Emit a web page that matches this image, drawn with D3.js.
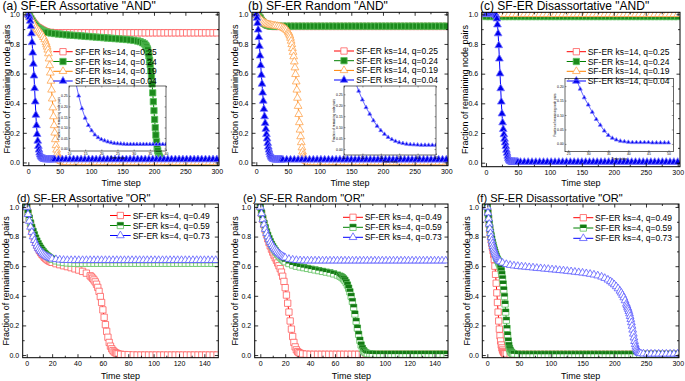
<!DOCTYPE html>
<html>
<head>
<meta charset="utf-8">
<script src="https://cdn.jsdelivr.net/npm/d3@7"></script>
<style>
  body { margin: 0; background: #fff; }
  svg { display: block; font-family: "Liberation Sans", Arial, sans-serif; }
</style>
</head>
<body>
<svg id="chart" width="685" height="381"></svg>
<script>
// ---------- data: [time step, fraction] ----------
const legendTop = ['SF-ER ks=14, q=0.25', 'SF-ER ks=14, q=0.24', 'SF-ER ks=14, q=0.19', 'SF-ER ks=14, q=0.04'];
const legendBottom = ['SF-ER ks=4, q=0.49', 'SF-ER ks=4, q=0.59', 'SF-ER ks=4, q=0.73'];
const panelTitles = ['(a) SF-ER Assortative "AND"', '(b) SF-ER Random "AND"', '(c) SF-ER Disassortative "AND"',
  '(d) SF-ER Assortative "OR"', '(e) SF-ER Random "OR"', '(f) SF-ER Disassortative "OR"'];

const xTicks300 = [0, 50, 100, 150, 200, 250, 300];
const xMinor300 = [25, 75, 125, 175, 225, 275];
const xTicks150 = [0, 20, 40, 60, 80, 100, 120, 140];
const xMinor150 = [10, 30, 50, 70, 90, 110, 130];
const yTicks = [0, 0.2, 0.4, 0.6, 0.8, 1.0];
const yMinor = [0.1, 0.3, 0.5, 0.7, 0.9];

const insetXTicksA = [10, 15, 20, 25, 30, 35, 40];
const insetXTicksB = [10, 15, 20, 25, 30, 35];
const insetXTicksC = [25, 30, 35, 40, 45, 50];
const insetYTicksAB = [0, 0.05, 0.1, 0.15, 0.2, 0.25];
const insetYTicksC = [0, 0.05, 0.1, 0.15, 0.2];

const aRed = [[0,1],[2,.985],[4,.97],[6,.955],[8,.945],[10,.935],[12,.925],[14,.915],[16,.91],[18,.905],[20,.9],[22,.895],[24,.89],[26,.886],[28,.883],[30,.88],
  [36,.878],[42,.876],[48,.875],[54,.875],[60,.875],[66,.875],[72,.875],[78,.875],[84,.875],[90,.875],[96,.875],[102,.875],[108,.875],[114,.875],[120,.875],[126,.875],[132,.875],[138,.875],[144,.875],[150,.875],[156,.875],[162,.875],[168,.875],[174,.875],[180,.875],[186,.875],[192,.875],[198,.875],[204,.875],[210,.875],[216,.875],[222,.875],[228,.875],[234,.875],[240,.875],[246,.875],[252,.875],[258,.875],[264,.875],[270,.875],[276,.875],[282,.875],[288,.875],[294,.875],[300,.875]];
const aGreen = [[0,1],[2,.985],[4,.97],[6,.955],[8,.94],[10,.93],[12,.92],[14,.91],[16,.905],[18,.9],[20,.895],[22,.89],[24,.886],[26,.883],[28,.88],[30,.878],
  [36,.874],[42,.87],[48,.867],[54,.864],[60,.862],[66,.86],[72,.858],[78,.856],[84,.854],[90,.852],[96,.85],[102,.848],[108,.846],[114,.844],[120,.842],[126,.84],[132,.838],[138,.836],[144,.834],[150,.832],[156,.83],[162,.827],[168,.824],[174,.82],[178,.815],[182,.808],[185,.8],
  [187,.79],[188,.78],[189,.77],[190,.76],[191,.74],[192,.72],[193,.69],[194,.66],[195,.62],[196,.58],[197,.53],[198,.47],[199,.41],[200,.35],[201,.29],[202,.235],[203,.185],[204,.14],[205,.105],[206,.08],[207,.06],[208,.045],[209,.035],[210,.028],[211,.022],[212,.017],[213,.012],[214,.008],[216,.005],
  [222,.003],[228,.002],[234,0],[240,0],[246,0],[252,0],[258,0],[264,0],[270,0],[276,0],[282,0],[288,0],[294,0],[300,0]];
const aOrange = [[0,1],[2,.985],[4,.97],[6,.955],[8,.94],[10,.925],[12,.91],[14,.9],[16,.89],[18,.88],[20,.87],[22,.86],[24,.845],[26,.83],[28,.81],[29,.795],[30,.78],[31,.76],[32,.735],[33,.7],[34,.655],[35,.605],[36,.55],[37,.49],[38,.43],[39,.37],[40,.31],[41,.25],[42,.2],[43,.155],[44,.115],[45,.085],[46,.06],[47,.042],[48,.03],[49,.02],[50,.014],[52,.008],[54,.005],[57,.003],[60,.001],
  [66,0],[72,0],[78,0],[84,0],[90,0],[96,0],[102,0],[108,0],[114,0],[120,0],[126,0],[132,0],[138,0],[144,0],[150,0],[156,0],[162,0],[168,0],[174,0],[180,0],[186,0],[192,0],[198,0],[204,0],[210,0],[216,0],[222,0],[228,0],[234,0],[240,0],[246,0],[252,0],[258,0],[264,0],[270,0],[276,0],[282,0],[288,0],[294,0],[300,0]];
const aBlue = [[0,1],[1,.995],[2,.98],[3,.955],[4,.92],[5,.87],[6,.81],[7,.74],[8,.665],[9,.585],[10,.5],[11,.41],[12,.32],[13,.25],[14,.19],[15,.145],[16,.11],[17,.085],[18,.065],[19,.052],[20,.043],[21,.037],[22,.032],[23,.028],[24,.025],[25,.023],[26,.022],[27,.021],[28,.02],[29,.02],[30,.02],[31,.02],[32,.02],[33,.02],[34,.02],[35,.02],[36,.02],[37,.02],[38,.02],[39,.02],[40,.02],
  [42,.02],[48,.02],[54,.02],[60,.02],[66,.02],[72,.02],[78,.02],[84,.02],[90,.02],[96,.02],[102,.02],[108,.02],[114,.02],[120,.02],[126,.02],[132,.02],[138,.02],[144,.02],[150,.02],[156,.02],[162,.02],[168,.02],[174,.02],[180,.02],[186,.02],[192,.02],[198,.02],[204,.02],[210,.02],[216,.02],[222,.02],[228,.02],[234,.02],[240,.02],[246,.02],[252,.02],[258,.02],[264,.02],[270,.02],[276,.02],[282,.02],[288,.02],[294,.02],[300,.02]];

const bRed = [[0,1],[2,.995],[4,.985],[6,.975],[8,.96],[10,.95],[12,.94],[14,.935],[16,.93],[18,.926],[20,.923],[22,.921],[24,.92],[26,.919],[28,.918],[30,.918],
  [36,.918],[42,.918],[48,.918],[54,.918],[60,.918],[66,.918],[72,.918],[78,.918],[84,.918],[90,.918],[96,.918],[102,.918],[108,.918],[114,.918],[120,.918],[126,.918],[132,.918],[138,.918],[144,.918],[150,.918],[156,.918],[162,.918],[168,.918],[174,.918],[180,.918],[186,.918],[192,.918],[198,.918],[204,.918],[210,.918],[216,.918],[222,.918],[228,.918],[234,.918],[240,.918],[246,.918],[252,.918],[258,.918],[264,.918],[270,.918],[276,.918],[282,.918],[288,.918],[294,.918],[300,.918]];
const bGreen = [[0,1],[2,.995],[4,.985],[6,.975],[8,.96],[10,.95],[12,.94],[14,.935],[16,.93],[18,.926],[20,.924],[22,.922],[24,.921],[26,.92],[28,.92],[30,.92],
  [36,.92],[42,.92],[48,.92],[54,.92],[60,.92],[66,.92],[72,.92],[78,.92],[84,.92],[90,.92],[96,.92],[102,.92],[108,.92],[114,.92],[120,.92],[126,.92],[132,.92],[138,.92],[144,.92],[150,.92],[156,.92],[162,.92],[168,.92],[174,.92],[180,.92],[186,.92],[192,.92],[198,.92],[204,.92],[210,.92],[216,.92],[222,.92],[228,.92],[234,.92],[240,.92],[246,.92],[252,.92],[258,.92],[264,.92],[270,.92],[276,.92],[282,.92],[288,.92],[294,.92],[300,.92]];
const bOrange = [[0,1],[2,.99],[4,.978],[6,.967],[8,.96],[10,.952],[12,.945],[14,.94],[16,.935],[18,.932],[20,.93],[22,.928],[24,.926],[26,.924],[28,.923],[30,.922],[33,.92],[36,.918],[39,.914],[42,.91],[44,.905],[46,.9],[48,.893],[50,.883],[51,.876],[52,.867],[53,.855],[54,.84],[55,.82],[56,.797],[57,.77],[58,.745],[59,.715],[60,.68],[61,.64],[62,.595],[63,.545],[64,.49],[65,.435],[66,.38],[67,.325],[68,.27],[69,.22],[70,.175],[71,.135],[72,.1],[73,.072],[74,.05],[75,.035],[76,.024],[77,.016],[78,.011],[80,.006],[82,.003],[86,.001],
  [90,0],[96,0],[102,0],[108,0],[114,0],[120,0],[126,0],[132,0],[138,0],[144,0],[150,0],[156,0],[162,0],[168,0],[174,0],[180,0],[186,0],[192,0],[198,0],[204,0],[210,0],[216,0],[222,0],[228,0],[234,0],[240,0],[246,0],[252,0],[258,0],[264,0],[270,0],[276,0],[282,0],[288,0],[294,0],[300,0]];
const bBlue = [[0,1],[1,.975],[2,.94],[3,.895],[4,.845],[5,.785],[6,.72],[7,.655],[8,.59],[9,.53],[10,.47],[11,.415],[12,.36],[13,.31],[14,.265],[15,.225],[16,.19],[17,.16],[18,.13],[19,.105],[20,.085],[21,.068],[22,.054],[23,.044],[24,.036],[25,.03],[26,.026],[27,.023],[28,.021],[29,.02],[30,.019],[31,.018],[32,.018],[33,.018],[34,.018],[35,.018],[36,.018],[37,.018],[38,.018],[39,.018],[40,.018],
  [42,.018],[48,.018],[54,.018],[60,.018],[66,.018],[72,.018],[78,.018],[84,.018],[90,.018],[96,.018],[102,.018],[108,.018],[114,.018],[120,.018],[126,.018],[132,.018],[138,.018],[144,.018],[150,.018],[156,.018],[162,.018],[168,.018],[174,.018],[180,.018],[186,.018],[192,.018],[198,.018],[204,.018],[210,.018],[216,.018],[222,.018],[228,.018],[234,.018],[240,.018],[246,.018],[252,.018],[258,.018],[264,.018],[270,.018],[276,.018],[282,.018],[288,.018],[294,.018],[300,.018]];

const cRed = [[0,1],[6,1],[12,1],[18,1],[24,1],[30,1],[36,1],[42,1],[48,1],[54,1],[60,1],[66,1],[72,1],[78,1],[84,1],[90,1],[96,1],[102,1],[108,1],[114,1],[120,1],[126,1],[132,1],[138,1],[144,1],[150,1],[156,1],[162,1],[168,1],[174,1],[180,1],[186,1],[192,1],[198,1],[204,1],[210,1],[216,1],[222,1],[228,1],[234,1],[240,1],[246,1],[252,1],[258,1],[264,1],[270,1],[276,1],[282,1],[288,1],[294,1],[300,1]];
const cGreen = [[0,.985],[6,.985],[12,.985],[18,.985],[24,.985],[30,.985],[36,.985],[42,.985],[48,.985],[54,.985],[60,.985],[66,.985],[72,.985],[78,.985],[84,.985],[90,.985],[96,.985],[102,.985],[108,.985],[114,.985],[120,.985],[126,.985],[132,.985],[138,.985],[144,.985],[150,.985],[156,.985],[162,.985],[168,.985],[174,.985],[180,.985],[186,.985],[192,.985],[198,.985],[204,.985],[210,.985],[216,.985],[222,.985],[228,.985],[234,.985],[240,.985],[246,.985],[252,.985],[258,.985],[264,.985],[270,.985],[276,.985],[282,.985],[288,.985],[294,.985],[300,.985]];
const cOrange = [[0,1],[6,1],[12,1],[18,1],[24,1],[30,1],[36,1],[42,1],[48,1],[54,1],[60,1],[66,1],[72,1],[78,1],[84,1],[90,1],[96,1],[102,1],[108,1],[114,1],[120,1],[126,1],[132,1],[138,1],[144,1],[150,1],[156,1],[162,1],[168,1],[174,1],[180,1],[186,1],[192,1],[198,1],[204,1],[210,1],[216,1],[222,1],[228,1],[234,1],[240,1],[246,1],[252,1],[258,1],[264,1],[270,1],[276,1],[282,1],[288,1],[294,1],[300,1]];
const cBlue = [[0,1],[2,1],[4,1],[6,1],[8,1],[10,1],[12,1],[14,1],[15,.998],[16,.99],[17,.97],[18,.93],[19,.87],[20,.79],[21,.7],[22,.6],[23,.5],[24,.41],[25,.33],[26,.27],[27,.225],[28,.19],[29,.16],[30,.135],[31,.11],[32,.085],[33,.065],[34,.045],[35,.03],[36,.02],[37,.014],[38,.01],[39,.008],[40,.006],[41,.005],[42,.005],[43,.005],[44,.005],[45,.005],[46,.004],[47,.004],[48,.004],[49,.004],[50,.004],
  [54,.004],[60,.004],[66,.004],[72,.004],[78,.004],[84,.004],[90,.004],[96,.004],[102,.004],[108,.004],[114,.004],[120,.004],[126,.004],[132,.004],[138,.004],[144,.004],[150,.004],[156,.004],[162,.004],[168,.004],[174,.004],[180,.004],[186,.004],[192,.004],[198,.004],[204,.004],[210,.004],[216,.004],[222,.004],[228,.004],[234,.004],[240,.004],[246,.004],[252,.004],[258,.004],[264,.004],[270,.004],[276,.004],[282,.004],[288,.004],[294,.004],[300,.004]];

const dRed = [[0,1],[1,.96],[2,.92],[3,.885],[4,.85],[5,.82],[6,.79],[7,.765],[8,.743],[9,.723],[10,.705],[11,.692],[12,.68],[13,.67],[14,.66],[15,.652],[16,.645],[17,.639],[18,.634],[19,.63],[20,.626],[23,.617],[26,.61],[29,.603],[32,.597],[35,.59],[38,.582],[41,.574],[44,.565],[47,.553],[50,.535],
  [51,.527],[52,.518],[53,.507],[54,.494],[55,.478],[56,.457],[57,.43],[58,.395],[59,.355],[60,.305],[61,.255],[62,.205],[63,.16],[64,.12],[65,.085],[66,.06],[67,.042],[68,.03],[69,.021],[70,.015],[71,.011],[72,.008],[74,.005],[77,.003],[80,.002],[84,.001],
  [87,0],[90,0],[93,0],[96,0],[99,0],[102,0],[105,0],[108,0],[111,0],[114,0],[117,0],[120,0],[123,0],[126,0],[129,0],[132,0],[135,0],[138,0],[141,0],[144,0],[147,0],[150,0]];
const dGreen = [[0,1],[1,.96],[2,.925],[3,.892],[4,.862],[5,.835],[6,.812],[7,.79],[8,.77],[9,.752],[10,.736],[11,.722],[12,.709],[13,.698],[14,.688],[15,.679],[16,.671],[17,.664],[18,.658],[19,.652],[20,.647],[23,.636],[26,.629],[29,.625],[32,.622],[35,.621],
  [38,.62],[41,.62],[44,.62],[47,.62],[50,.62],[53,.62],[56,.62],[59,.62],[62,.62],[65,.62],[68,.62],[71,.62],[74,.62],[77,.62],[80,.62],[83,.62],[86,.62],[89,.62],[92,.62],[95,.62],[98,.62],[101,.62],[104,.62],[107,.62],[110,.62],[113,.62],[116,.62],[119,.62],[122,.62],[125,.62],[128,.62],[131,.62],[134,.62],[137,.62],[140,.62],[143,.62],[146,.62],[149,.62]];
const dBlue = [[0,1],[1,.95],[2,.905],[3,.865],[4,.83],[5,.8],[6,.775],[7,.755],[8,.737],[9,.722],[10,.71],[11,.7],[12,.69],[13,.682],[14,.675],[15,.669],[16,.664],[17,.66],[18,.656],[19,.653],[20,.65],[23,.646],[26,.643],[29,.641],[32,.64],
  [35,.64],[38,.64],[41,.64],[44,.64],[47,.64],[50,.64],[53,.64],[56,.64],[59,.64],[62,.64],[65,.64],[68,.64],[71,.64],[74,.64],[77,.64],[80,.64],[83,.64],[86,.64],[89,.64],[92,.64],[95,.64],[98,.64],[101,.64],[104,.64],[107,.64],[110,.64],[113,.64],[116,.64],[119,.64],[122,.64],[125,.64],[128,.64],[131,.64],[134,.64],[137,.64],[140,.64],[143,.64],[146,.64],[149,.64]];

const eRed = [[0,1],[1,.955],[2,.915],[3,.88],[4,.845],[5,.815],[6,.785],[7,.76],[8,.737],[9,.715],[10,.695],[11,.675],[12,.657],[13,.64],[14,.622],[15,.603],[16,.583],[17,.56],[18,.532],[19,.497],[20,.455],[21,.405],[22,.35],[23,.29],[24,.23],[25,.175],[26,.125],[27,.085],[28,.055],[29,.035],[30,.023],[31,.016],[32,.012],[34,.008],[37,.006],
  [40,.005],[43,.005],[46,.005],[49,.005],[52,.005],[55,.005],[58,.005],[61,.005],[64,.005],[67,.005],[70,.005],[73,.005],[76,.005],[79,.005],[82,.005],[85,.005],[88,.005],[91,.005],[94,.005],[97,.005],[100,.005],[103,.005],[106,.005],[109,.005],[112,.005],[115,.005],[118,.005],[121,.005],[124,.005],[127,.005],[130,.005],[133,.005],[136,.005],[139,.005],[142,.005],[145,.005],[148,.005]];
const eGreen = [[0,1],[1,.96],[2,.925],[3,.89],[4,.86],[5,.832],[6,.808],[7,.786],[8,.766],[9,.748],[10,.732],[11,.718],[12,.705],[13,.693],[14,.682],[15,.672],[16,.662],[17,.653],[18,.645],[19,.637],[20,.63],[23,.618],[26,.608],[29,.6],[32,.595],[35,.59],[38,.585],[41,.58],[44,.575],[47,.57],[50,.565],[53,.56],[56,.555],[59,.548],[62,.54],
  [64,.533],[65,.528],[66,.522],[67,.514],[68,.504],[69,.49],[70,.473],[71,.452],[72,.427],[73,.397],[74,.362],[75,.322],[76,.277],[77,.228],[78,.182],[79,.14],[80,.1],[81,.068],[82,.045],[83,.03],[84,.02],[85,.014],[86,.01],[88,.008],[90,.007],
  [93,.006],[96,.006],[99,.006],[102,.006],[105,.006],[108,.006],[111,.006],[114,.006],[117,.006],[120,.006],[123,.006],[126,.006],[129,.006],[132,.006],[135,.006],[138,.006],[141,.006],[144,.006],[147,.006],[150,.006]];
const eBlue = [[0,1],[1,.955],[2,.915],[3,.88],[4,.85],[5,.823],[6,.8],[7,.78],[8,.763],[9,.748],[10,.735],[11,.723],[12,.712],[13,.702],[14,.693],[15,.685],[16,.678],[17,.672],[18,.666],[19,.661],[20,.657],[23,.648],[26,.643],[29,.64],[32,.638],
  [35,.637],[38,.637],[41,.637],[44,.637],[47,.637],[50,.637],[53,.637],[56,.637],[59,.637],[62,.637],[65,.637],[68,.637],[71,.637],[74,.637],[77,.637],[80,.637],[83,.637],[86,.637],[89,.637],[92,.637],[95,.637],[98,.637],[101,.637],[104,.637],[107,.637],[110,.637],[113,.637],[116,.637],[119,.637],[122,.637],[125,.637],[128,.637],[131,.637],[134,.637],[137,.637],[140,.637],[143,.637],[146,.637],[149,.637]];

const fRed = [[0,1],[1,.96],[2,.92],[3,.88],[4,.845],[5,.81],[6,.78],[7,.755],[8,.73],[9,.705],[10,.68],[11,.645],[12,.6],[13,.545],[14,.485],[15,.42],[16,.355],[17,.29],[18,.23],[19,.175],[20,.13],[21,.095],[22,.068],[23,.048],[24,.034],[25,.024],[26,.018],[27,.013],[28,.01],[30,.008],
  [36,.006],[42,.005],[48,.005],[54,.005],[60,.005],[66,.005],[72,.005],[78,.005],[84,.005],[90,.005],[96,.005],[102,.005],[108,.005],[114,.005],[120,.005],[126,.005],[132,.005],[138,.005],[144,.005],[150,.005],[156,.005],[162,.005],[168,.005],[174,.005],[180,.005],[186,.005],[192,.005],[198,.005],[204,.005],[210,.005],[216,.005],[222,.005],[228,.005],[234,.005],[240,.005],[246,.005],[252,.005],[258,.005],[264,.005],[270,.005],[276,.005],[282,.005],[288,.005],[294,.005],[300,.005]];
const fGreen = [[0,1],[1,.96],[2,.925],[3,.89],[4,.86],[5,.83],[6,.805],[7,.783],[8,.762],[9,.743],[10,.725],[11,.709],[12,.694],[13,.68],[14,.667],[15,.655],[16,.645],[17,.636],[18,.627],[19,.617],[20,.605],[21,.59],[22,.57],[23,.545],[24,.515],[25,.48],[26,.44],[27,.395],[28,.345],[29,.29],[30,.235],[31,.18],[32,.135],[33,.095],[34,.065],[35,.045],[36,.032],[37,.023],[38,.017],[39,.013],[40,.01],[42,.008],
  [48,.006],[54,.005],[60,.005],[66,.005],[72,.005],[78,.005],[84,.005],[90,.005],[96,.005],[102,.005],[108,.005],[114,.005],[120,.005],[126,.005],[132,.005],[138,.005],[144,.005],[150,.005],[156,.005],[162,.005],[168,.005],[174,.005],[180,.005],[186,.005],[192,.005],[198,.005],[204,.005],[210,.005],[216,.005],[222,.005],[228,.005],[234,.005],[240,.005],[246,.005],[252,.005],[258,.005],[264,.005],[270,.005],[276,.005],[282,.005],[288,.005],[294,.005],[300,.005]];
const fBlue = [[0,1],[1,.96],[2,.92],[3,.885],[4,.852],[5,.822],[6,.795],[7,.772],[8,.752],[9,.734],[10,.718],[11,.704],[12,.692],[13,.681],[14,.671],[15,.662],[16,.654],[17,.647],[18,.641],[19,.636],[20,.631],
  [24,.622],[30,.613],[36,.607],[42,.603],[48,.6],[54,.597],[60,.595],[66,.592],[72,.59],[78,.587],[84,.585],[90,.582],[96,.58],[102,.577],[108,.575],[114,.572],[120,.57],[126,.567],[132,.564],[138,.561],[144,.558],[150,.555],[156,.551],[162,.547],[168,.542],[174,.536],[180,.528],[185,.519],[190,.508],[194,.497],[197,.487],[200,.476],[203,.463],[206,.449],[209,.433],[211,.42],[213,.405],[215,.388],[217,.368],[219,.345],[220,.333],[221,.32],[222,.31],[223,.296],[224,.28],[225,.262],[226,.242],[227,.22],[228,.196],[229,.17],[230,.143],[231,.117],[232,.093],[233,.072],[234,.055],[235,.041],[236,.031],[237,.023],[238,.018],[239,.014],[240,.012],[242,.01],[246,.009],
  [252,.008],[258,.008],[264,.008],[270,.008],[276,.008],[282,.008],[288,.008],[294,.008],[300,.008]];

// ---------- layout and styles ----------
const svg = d3.select('#chart');
const font = '"Liberation Sans", Arial, sans-serif';

const stylesTop = [
  { line: '#ff0000', shape: 'square', stroke: '#ff5c5c', fill: '#ffffff' },
  { line: '#008000', shape: 'square', stroke: '#5cc05c', fill: '#1c8a1c' },
  { line: '#ff8000', shape: 'triangle', stroke: '#ffa54f', fill: '#ffffff' },
  { line: '#0000ff', shape: 'triangle', stroke: '#7a7aff', fill: '#0000ee' },
];
const stylesBottom = [
  { line: '#ff0000', shape: 'square', stroke: '#ff5c5c', fill: '#ffffff' },
  { line: '#008000', shape: 'square', stroke: '#5cc05c', fill: '#ffffff', half: '#147a14' },
  { line: '#0000ff', shape: 'triangle', stroke: '#5a5aff', fill: '#ffffff' },
];

const panels = [
  { id: 'a', title: panelTitles[0], tx: 2.5, ty: 10, tfs: 12, box: { l: 23.3, t: 12.3, r: 219, b: 165.7 }, xd: [-8, 303.5], yd: [-0.022, 1.0135],
    series: [aRed, aGreen, aOrange, aBlue], names: legendTop, styles: stylesTop, xt: xTicks300, xm: xMinor300,
    leg: { x0: 53.3, x1: 72.7, tx: 75, y: [51.7, 61.5, 71.3, 81] }, ytx: 7.3, xty: 186.3,
    inset: { box: { l: 69, t: 86, r: 166, b: 151 }, xd: [10, 40], yd: [-0.012, 0.297], xt: insetXTicksA, yt: insetYTicksAB } },
  { id: 'b', title: panelTitles[1], tx: 248, ty: 10, tfs: 12, box: { l: 252, t: 12.3, r: 448, b: 165.7 }, xd: [-6.8, 302.7], yd: [-0.022, 1.0135],
    series: [bRed, bGreen, bOrange, bBlue], names: legendTop, styles: stylesTop, xt: xTicks300, xm: xMinor300,
    leg: { x0: 334, x1: 354, tx: 356.3, y: [51, 60.7, 70.4, 80] }, ytx: 234.7, xty: 186.3,
    inset: { box: { l: 344, t: 86, r: 436, b: 155 }, xd: [10, 35], yd: [-0.027, 0.288], xt: insetXTicksB, yt: insetYTicksAB } },
  { id: 'c', title: panelTitles[2], tx: 480, ty: 10, tfs: 12, box: { l: 481.7, t: 12.3, r: 680, b: 166.7 }, xd: [-6.7, 303.6], yd: [-0.027, 1.0135],
    series: [cRed, cGreen, cOrange, cBlue], names: legendTop, styles: stylesTop, xt: xTicks300, xm: xMinor300,
    leg: { x0: 566.7, x1: 586, tx: 587.7, y: [51.7, 61.5, 71.3, 81] }, ytx: 465, xty: 186.3,
    inset: { box: { l: 565, t: 78.3, r: 673.3, b: 151.7 }, xd: [24.2, 51.2], yd: [-0.027, 0.227], xt: insetXTicksC, yt: insetYTicksC } },
  { id: 'd', title: panelTitles[3], tx: 16.7, ty: 201.5, tfs: 11, box: { l: 22.7, t: 204, r: 218.3, b: 357.7 }, xd: [-3.2, 151], yd: [-0.018, 1.02],
    series: [dRed, dGreen, dBlue], names: legendBottom, styles: stylesBottom, xt: xTicks150, xm: xMinor150,
    leg: { x0: 110, x1: 130.7, tx: 132.7, y: [215.5, 225.5, 235.5] }, ytx: 6, xty: 378.5 },
  { id: 'e', title: panelTitles[4], tx: 243, ty: 201.5, tfs: 11, box: { l: 254.7, t: 204, r: 448, b: 357.7 }, xd: [-4.5, 150.8], yd: [-0.018, 1.02],
    series: [eRed, eGreen, eBlue], names: legendBottom, styles: stylesBottom, xt: xTicks150, xm: xMinor150,
    leg: { x0: 343, x1: 363, tx: 364.7, y: [217.3, 227.3, 237.3] }, ytx: 234.7, xty: 378.5 },
  { id: 'f', title: panelTitles[5], tx: 476.7, ty: 201.5, tfs: 11, box: { l: 482.3, t: 204, r: 679, b: 357.7 }, xd: [-7.9, 302], yd: [-0.018, 1.02],
    series: [fRed, fGreen, fBlue], names: legendBottom, styles: stylesBottom, xt: xTicks300, xm: xMinor300,
    leg: { x0: 573.3, x1: 593.3, tx: 595, y: [217.7, 228, 238.3] }, ytx: 466.7, xty: 378.5 },
];

// ---------- helpers ----------
function marker(sel, st, size) {
  const sym = d3.symbol().type(st.shape === 'square' ? d3.symbolSquare : d3.symbolTriangle).size(size);
  const side = Math.sqrt(size);
  sel.append('path').attr('d', sym).attr('fill', st.fill).attr('stroke', st.stroke).attr('stroke-width', 0.8);
  if (st.half) {
    sel.append('rect').attr('x', -side / 2).attr('y', -side / 2).attr('width', side).attr('height', side / 2).attr('fill', st.half);
  }
}

function msize(st, small) {
  if (small) return 7;
  return st.shape === 'square' ? 40 : 26;
}

function drawSeries(parent, data, x, y, st, small) {
  parent.append('path').datum(data)
    .attr('fill', 'none')
    .attr('stroke', st.line)
    .attr('stroke-width', small ? 0.6 : 1)
    .attr('d', d3.line().x(d => x(d[0])).y(d => y(d[1])));
  parent.append('g').selectAll('g').data(data).join('g')
    .attr('transform', d => `translate(${x(d[0])},${y(d[1])})`)
    .each(function () { marker(d3.select(this), st, msize(st, small)); });
}

function drawAxes(g, x, y, box, o) {
  const fix = sel => {
    sel.select('.domain').remove();
    sel.attr('font-family', font).attr('font-size', o.fs);
    sel.selectAll('line').attr('stroke', '#000').attr('stroke-width', o.sw);
    sel.selectAll('text').attr('fill', '#000');
  };
  const sides = [
    [d3.axisBottom, 'translate(0,' + box.b + ')', x, o.xt, o.xm, true],
    [d3.axisTop, 'translate(0,' + box.t + ')', x, o.xt, o.xm, false],
    [d3.axisLeft, 'translate(' + box.l + ',0)', y, o.yt, o.ym, true],
    [d3.axisRight, 'translate(' + box.r + ',0)', y, o.yt, o.ym, false],
  ];
  sides.forEach(([fn, tr, sc, major, minor, labelled]) => {
    const isX = fn === d3.axisBottom || fn === d3.axisTop;
    const ax = fn(sc).tickValues(major).tickSizeInner(-o.len).tickSizeOuter(0)
      .tickPadding(isX ? o.padX : o.padY)
      .tickFormat(labelled ? (isX ? o.fx : o.fy) : '');
    g.append('g').attr('transform', tr).call(ax).call(fix);
    if (minor) {
      const mx = fn(sc).tickValues(minor).tickSizeInner(-o.mlen).tickSizeOuter(0).tickFormat('');
      g.append('g').attr('transform', tr).call(mx).call(fix);
    }
  });
  g.append('rect')
    .attr('x', box.l).attr('y', box.t)
    .attr('width', box.r - box.l).attr('height', box.b - box.t)
    .attr('fill', 'none').attr('stroke', '#000').attr('stroke-width', o.frame);
}

// ---------- draw ----------
panels.forEach(p => {
  const g = svg.append('g').attr('class', 'panel-' + p.id);
  const box = p.box;
  const x = d3.scaleLinear().domain(p.xd).range([box.l, box.r]);
  const y = d3.scaleLinear().domain(p.yd).range([box.b, box.t]);

  svg.append('clipPath').attr('id', 'clip-' + p.id)
    .append('rect').attr('x', box.l).attr('y', box.t).attr('width', box.r - box.l).attr('height', box.b - box.t);
  const plot = g.append('g').attr('clip-path', `url(#clip-${p.id})`);
  p.series.forEach((s, i) => drawSeries(plot, s, x, y, p.styles[i], false));

  drawAxes(g, x, y, box, {
    xt: p.xt, xm: p.xm, yt: yTicks, ym: yMinor, fs: 7, sw: 0.8, len: 3.5, mlen: 2,
    padX: 3.3, padY: 3.5, fx: d3.format('d'), fy: d3.format('.1f'), frame: 1,
  });

  // titles
  g.append('text').attr('x', p.tx).attr('y', p.ty)
    .attr('font-size', p.tfs).attr('font-family', font).text(p.title);
  g.append('text')
    .attr('transform', `translate(${p.ytx + 3},${(box.t + box.b) / 2}) rotate(-90)`)
    .attr('text-anchor', 'middle').attr('font-size', 9).attr('font-family', font)
    .text('Fraction of remaining node pairs');
  g.append('text').attr('x', (box.l + box.r) / 2).attr('y', p.xty)
    .attr('text-anchor', 'middle').attr('font-size', 9).attr('font-family', font)
    .text('Time step');

  // legend
  p.names.forEach((name, i) => {
    const st = p.styles[i];
    const ly = p.leg.y[i];
    g.append('line').attr('x1', p.leg.x0).attr('x2', p.leg.x1).attr('y1', ly).attr('y2', ly)
      .attr('stroke', st.line).attr('stroke-width', 1);
    marker(g.append('g').attr('transform', `translate(${(p.leg.x0 + p.leg.x1) / 2},${ly})`), st, msize(st, false));
    g.append('text').attr('x', p.leg.tx).attr('y', ly + 3)
      .attr('font-size', 8.5).attr('font-family', font).text(name);
  });

  // inset zoom on the q=0.04 curve
  if (p.inset) {
    const ib = p.inset.box;
    const ix = d3.scaleLinear().domain(p.inset.xd).range([ib.l, ib.r]);
    const iy = d3.scaleLinear().domain(p.inset.yd).range([ib.b, ib.t]);
    const ig = g.append('g');
    svg.append('clipPath').attr('id', 'clip-in-' + p.id)
      .append('rect').attr('x', ib.l).attr('y', ib.t).attr('width', ib.r - ib.l).attr('height', ib.b - ib.t);
    const blue = p.series[3].filter(d => d[0] >= p.inset.xd[0] - 2 && d[0] <= p.inset.xd[1] + 2);
    drawSeries(ig.append('g').attr('clip-path', `url(#clip-in-${p.id})`), blue, ix, iy, p.styles[3], true);
    drawAxes(ig, ix, iy, ib, {
      xt: p.inset.xt, xm: null, yt: p.inset.yt, ym: null, fs: 3.4, sw: 0.4, len: 1.5, mlen: 1,
      padX: 1.3, padY: 1.3, fx: d3.format('d'), fy: d3.format('.2f'), frame: 0.6,
    });
    ig.append('text').attr('x', (ib.l + ib.r) / 2).attr('y', ib.b + 8)
      .attr('text-anchor', 'middle').attr('font-size', 3.6).attr('font-family', font).text('Time step');
    ig.append('text')
      .attr('transform', `translate(${ib.l - 9},${(ib.t + ib.b) / 2}) rotate(-90)`)
      .attr('text-anchor', 'middle').attr('font-size', 3).attr('font-family', font)
      .text('Fraction of remaining node pairs');
  }
});
</script>
</body>
</html>
